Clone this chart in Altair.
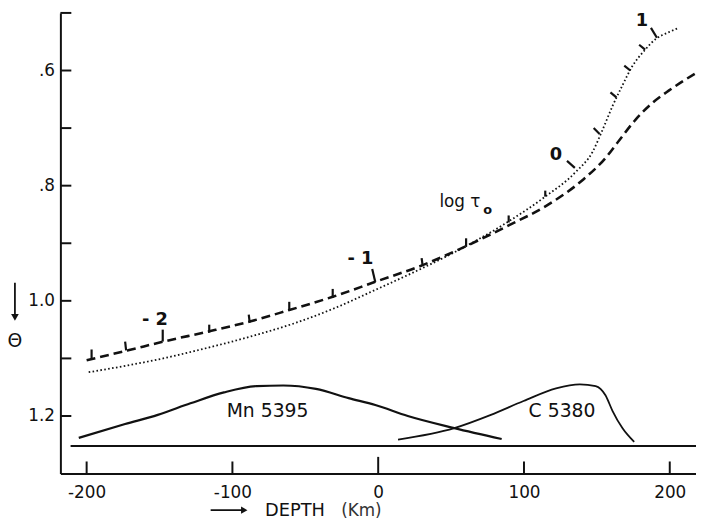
import altair as alt
import pandas as pd

FONT = "DejaVu Sans"
INK = "#111111"

# dashed curve
dash_depth = [-200.0, -171.5, -147.8, -115.9, -88.1, -61.0, -31.2, -2.0, 30.5, 60.3,
              89.5, 116.6, 140.3, 155.9, 165.4, 176.3, 187.8, 199.3, 217.6]
dash_theta = [1.103, 1.086, 1.071, 1.053, 1.036, 1.016, 0.993, 0.967, 0.938, 0.905,
              0.869, 0.833, 0.790, 0.752, 0.721, 0.686, 0.657, 0.635, 0.605]
# dotted curve
dot_depth = [-198.6, -171.5, -151.2, -124.1, -83.4, -56.3, -29.2, -2.0, 30.5, 60.3,
             89.5, 114.6, 135.6, 147.1, 153.9, 160.7, 167.5, 174.2, 183.1, 190.5, 198.0, 206.1]
dot_theta = [1.124, 1.112, 1.102, 1.086, 1.059, 1.038, 1.012, 0.981, 0.943, 0.905,
             0.862, 0.819, 0.776, 0.741, 0.703, 0.662, 0.626, 0.593, 0.564, 0.545, 0.535, 0.526]
# contribution functions
mn_depth = [-205.4, -173.6, -151.2, -128.8, -105.8, -83.4, -65.1, -42.7, -20.3, -2.0, 20.3, 52.2, 84.7]
mn_theta = [1.238, 1.214, 1.198, 1.178, 1.159, 1.148, 1.147, 1.153, 1.169, 1.181, 1.200, 1.221, 1.240]
c_depth = [13.6, 52.2, 77.3, 99.7, 122.0, 138.3, 149.2, 155.9, 160.7, 167.5, 175.6]
c_theta = [1.241, 1.221, 1.198, 1.174, 1.152, 1.145, 1.148, 1.164, 1.191, 1.221, 1.245]
base_depth = [-211.0, 218.0]
base_theta = [1.252, 1.252]

# log tau_0 marks
tau_depth = [-196.6, -172.9, -147.8, -115.9, -88.1, -61.0, -31.2, -2.0, 30.5, 60.3,
             89.5, 114.6, 134.9, 151.9, 163.4, 172.9, 183.1, 191.2]
tau_theta = [1.100, 1.0862, 1.0707, 1.0552, 1.0379, 1.0172, 0.9948, 0.9672, 0.9397, 0.9052,
             0.8638, 0.8190, 0.7690, 0.7103, 0.6466, 0.6000, 0.5638, 0.5431]
tau_depth2 = [-196.6, -173.6, -147.8, -115.9, -88.8, -61.0, -31.2, -4.1, 29.8, 60.3,
              89.5, 114.6, 129.5, 147.8, 159.3, 168.8, 179.0, 187.1]
tau_theta2 = [1.0845, 1.0707, 1.050, 1.0414, 1.0241, 1.0017, 0.9793, 0.9448, 0.9259, 0.8914,
              0.8517, 0.8086, 0.7569, 0.7000, 0.6379, 0.5914, 0.5552, 0.5259]

tau_labels = ["- 2", "- 1", "0", "1"]
tau_label_depth = [-153.2, -12.2, 122.0, 181.0]
tau_label_theta = [1.034, 0.928, 0.747, 0.514]

line_labels = ["Mn 5395", "C 5380"]
line_label_depth = [-75.9, 126.1]
line_label_theta = [1.191, 1.191]

x_ticks = [-200, -100, 0, 100, 200]
x_tick_end = [1.279, 1.279, 1.271, 1.279, 1.279]
y_ticks = [0.5, 0.6, 0.7, 0.8, 0.9, 1.0, 1.1, 1.2]
y_labels = [0.6, 0.8, 1.0, 1.2]

xs = alt.Scale(domain=[-218, 218], nice=False, zero=False)
ys = alt.Scale(domain=[0.5, 1.3], reverse=True, nice=False, zero=False)

x_axis = alt.Axis(
    values=x_ticks, ticks=False, grid=False, domainColor=INK, domainWidth=2,
    labelFont=FONT, labelFontSize=17, labelColor=INK, labelPadding=11, title=None,
    labelExpr="datum.value < 0 ? '-' + toString(-datum.value) : toString(datum.value)")
y_axis = alt.Axis(
    values=y_labels, ticks=False, grid=False, domainColor=INK, domainWidth=2,
    labelFont=FONT, labelFontSize=17, labelColor=INK, labelPadding=6, title=None,
    labelExpr="datum.value < 1 ? replace(format(datum.value, '.1f'), '0.', '.') : format(datum.value, '.1f')")

X = lambda f: alt.X(f"{f}:Q", scale=xs, axis=x_axis)
Y = lambda f: alt.Y(f"{f}:Q", scale=ys, axis=y_axis)

dash_df = pd.DataFrame({"d": dash_depth, "t": dash_theta})
dot_df = pd.DataFrame({"d": dot_depth, "t": dot_theta})
mn_df = pd.DataFrame({"d": mn_depth, "t": mn_theta})
c_df = pd.DataFrame({"d": c_depth, "t": c_theta})
base_df = pd.DataFrame({"d": base_depth, "t": base_theta})
tau_df = pd.DataFrame({"d": tau_depth, "t": tau_theta, "d2": tau_depth2, "t2": tau_theta2})
taulab_df = pd.DataFrame({"lab": tau_labels, "d": tau_label_depth, "t": tau_label_theta})
linelab_df = pd.DataFrame({"lab": line_labels, "d": line_label_depth, "t": line_label_theta})
xt_df = pd.DataFrame({"d": x_ticks, "t": [1.3] * len(x_ticks), "t2": x_tick_end})
yt_df = pd.DataFrame({"t": y_ticks, "d": [-218.0] * len(y_ticks), "d2": [-210.5] * len(y_ticks)})

dashed = alt.Chart(dash_df).mark_line(
    color=INK, strokeWidth=2.6, strokeDash=[9, 5], interpolate="monotone"
).encode(x=X("d"), y=Y("t"))

dotted = alt.Chart(dot_df).mark_line(
    color=INK, strokeWidth=1.8, strokeDash=[1.6, 2.4], interpolate="monotone"
).encode(x=X("d"), y=Y("t"))

mn = alt.Chart(mn_df).mark_line(color=INK, strokeWidth=2.2, interpolate="monotone").encode(x=X("d"), y=Y("t"))
cc = alt.Chart(c_df).mark_line(color=INK, strokeWidth=1.8, interpolate="monotone").encode(x=X("d"), y=Y("t"))
base = alt.Chart(base_df).mark_line(color=INK, strokeWidth=2).encode(x=X("d"), y=Y("t"))

tau_ticks = alt.Chart(tau_df).mark_rule(color=INK, strokeWidth=2.2).encode(
    x=X("d"), y=Y("t"), x2="d2:Q", y2="t2:Q")

tau_text = alt.Chart(taulab_df).mark_text(
    font=FONT, fontSize=18, fontWeight="bold", color=INK
).encode(x=X("d"), y=Y("t"), text="lab:N")

line_text = alt.Chart(linelab_df).mark_text(
    font=FONT, fontSize=19, color=INK
).encode(x=X("d"), y=Y("t"), text="lab:N")

logtau = alt.Chart(pd.DataFrame({"lab": ["log τ"], "d": [42.0], "t": [0.829]})).mark_text(
    font=FONT, fontSize=17, color=INK, align="left"
).encode(x=X("d"), y=Y("t"), text="lab:N")
logtau_sub = alt.Chart(pd.DataFrame({"lab": ["o"], "d": [75.0], "t": [0.842]})).mark_text(
    font=FONT, fontSize=13, fontWeight="bold", color=INK
).encode(x=X("d"), y=Y("t"), text="lab:N")

xt = alt.Chart(xt_df).mark_rule(color=INK, strokeWidth=2).encode(x=X("d"), y=Y("t"), y2="t2:Q")
yt = alt.Chart(yt_df).mark_rule(color=INK, strokeWidth=2).encode(x=X("d"), x2="d2:Q", y=Y("t"))

# axis titles (annotations)
ann = pd.DataFrame({"k": [0]})
x_arrow_shaft = alt.Chart(ann).mark_rule(color=INK, strokeWidth=1.6).encode(
    x=alt.value(152), x2=alt.value(186), y=alt.value(503))
x_arrow_head = alt.Chart(ann).mark_point(shape="triangle-right", filled=True, size=55, color=INK, opacity=1).encode(
    x=alt.value(186), y=alt.value(503))
x_title = alt.Chart(ann).mark_text(font=FONT, fontSize=18, color=INK, align="left").encode(
    x=alt.value(207), y=alt.value(504), text=alt.value("DEPTH"))
x_unit = alt.Chart(ann).mark_text(font=FONT, fontSize=17, color="#333333", align="left").encode(
    x=alt.value(284), y=alt.value(504), text=alt.value("(Km)"))
y_arrow_shaft = alt.Chart(ann).mark_rule(color=INK, strokeWidth=1.8).encode(
    x=alt.value(-46), y=alt.value(273), y2=alt.value(308))
y_arrow_head = alt.Chart(ann).mark_point(shape="triangle-down", filled=True, size=60, color=INK, opacity=1).encode(
    x=alt.value(-46), y=alt.value(308))
y_title = alt.Chart(ann).mark_text(font=FONT, fontSize=19, color=INK).encode(
    x=alt.value(-46), y=alt.value(332), text=alt.value("Θ"))

chart = alt.layer(
    dashed, dotted, mn, cc, base, tau_ticks, tau_text, line_text, logtau, logtau_sub,
    xt, yt, x_arrow_shaft, x_arrow_head, x_title, x_unit, y_arrow_shaft, y_arrow_head, y_title
).properties(
    width=643, height=466,
    autosize=alt.AutoSizeParams(type="none"),
    padding={"left": 53, "top": 2, "right": 0, "bottom": 46},
    background="white",
).configure_view(stroke=None)

chart.save("out.html", embed_options={"renderer": "svg", "actions": False})
